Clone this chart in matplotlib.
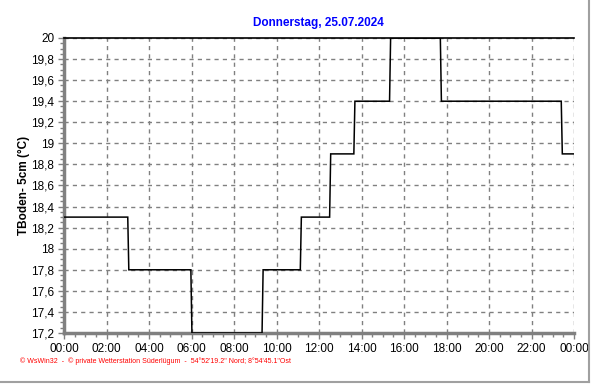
import matplotlib
matplotlib.use("Agg")
import matplotlib.pyplot as plt
from matplotlib.ticker import MultipleLocator, FixedLocator
from matplotlib.lines import Line2D

# data: time in hours, soil temperature at 5 cm
hours = [0.0, 3.00, 3.05, 5.97, 6.02, 9.32, 9.37, 11.12, 11.17, 12.50, 12.55,
         13.64, 13.69, 15.32, 15.37, 17.71, 17.76, 23.40, 23.45, 24.0]
temps = [18.3, 18.3, 17.8, 17.8, 17.2, 17.2, 17.8, 17.8, 18.3, 18.3, 18.9,
         18.9, 19.4, 19.4, 20.0, 20.0, 19.4, 19.4, 18.9, 18.9]

x_ticks = [0, 2, 4, 6, 8, 10, 12, 14, 16, 18, 20, 22, 24]
x_labels = ["00:00", "02:00", "04:00", "06:00", "08:00", "10:00", "12:00",
            "14:00", "16:00", "18:00", "20:00", "22:00", "00:00"]
y_ticks = [17.2, 17.4, 17.6, 17.8, 18.0, 18.2, 18.4, 18.6, 18.8, 19.0,
           19.2, 19.4, 19.6, 19.8, 20.0]

title = "Donnerstag, 25.07.2024"
ylabel = "TBoden- 5cm (°C)"
footer = "© WsWin32  -  © private Wetterstation Süderlügum  -  54°52'19.2\" Nord; 8°54'45.1\"Ost"

plt.rcParams['font.family'] = ['Liberation Sans', 'DejaVu Sans']

fig = plt.figure(figsize=(5.92, 3.84), dpi=100)
ax = fig.add_axes([64/592, 1-333/384, (574-64)/592, (333-38)/384])

ax.plot(hours, temps, color='black', lw=1.1, solid_joinstyle='miter', zorder=3)

ax.set_xlim(0, 24)
ax.set_ylim(17.2, 20.0)
ax.xaxis.set_major_locator(FixedLocator(x_ticks))
ax.set_xticklabels(x_labels)
ax.xaxis.set_minor_locator(MultipleLocator(0.5))
ax.yaxis.set_major_locator(FixedLocator(y_ticks))
ax.set_yticklabels([("%g" % v).replace('.', ',') for v in y_ticks])
ax.yaxis.set_minor_locator(MultipleLocator(0.05))

ax.grid(True, which='major', color='#808080', linestyle=(0, (3, 3)), lw=1.0)
ax.tick_params(axis='both', which='major', labelsize=8.5, color='#808080',
               length=4, width=1, direction='out', pad=3)
ax.tick_params(axis='both', which='minor', color='#808080', length=3, width=1,
               direction='out')

for s in ['left', 'bottom']:
    ax.spines[s].set_color('#808080')
    ax.spines[s].set_linewidth(2.5)
ax.spines['top'].set_color('black')
ax.spines['top'].set_linewidth(1.2)
ax.spines['right'].set_visible(False)

ax.set_ylabel(ylabel, fontsize=8.5, fontweight='bold')
ax.yaxis.set_label_coords(-0.067, 0.5)
fig.text(318/592, 1-23/384, title, color='#0000ff', fontsize=8.5,
         fontweight='bold', ha='center', va='center')
fig.text(20/592, 1-361/384, footer, color='#ff0000', fontsize=5,
         ha='left', va='center')

# outer frame (right and bottom)
fig.add_artist(Line2D([0, 589/592], [1-382/384, 1-382/384],
                      transform=fig.transFigure, color='#a0a0a0', lw=1.5))
fig.add_artist(Line2D([589/592, 589/592], [1-382/384, 1.0],
                      transform=fig.transFigure, color='#a0a0a0', lw=1.5))

fig.savefig("out.png", dpi=100)
